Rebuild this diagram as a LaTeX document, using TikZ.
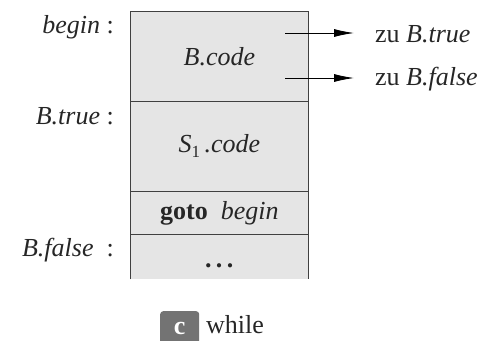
\documentclass[tikz,border=0pt]{standalone}
\usepackage{fontspec}
\setmainfont{Liberation Serif}
\usepackage{tikz}
\usetikzlibrary{arrows.meta,positioning}

\begin{document}
\begin{tikzpicture}[
    x = 1pt, y = -1pt,
    every node/.style = {font=\fontsize{26}{30}\selectfont, inner sep=0pt, text=black!85},
    codebox/.style    = {fill=black!10, draw=black!75, line width=0.9pt,
                         minimum width=178pt, anchor=north west},
    openbox/.style    = {fill=black!10, minimum width=178pt, anchor=north west},
    jump/.style       = {-{Latex[length=20pt,width=8pt]}, line width=0.9pt},
    addr/.style       = {anchor=east},
    badge/.style      = {fill=black!55, text=white, rounded corners=3pt,
                         minimum width=39pt, minimum height=34pt, anchor=north west}
  ]
\useasboundingbox (0,0) rectangle (487,340);
% the code blocks
\node[codebox, minimum height=90pt] (bcode) at (130,11)  {\textit{B.code}};
\node[codebox, minimum height=90pt] (scode) at (130,101) {\textit{S}\raisebox{-5pt}{\fontsize{17}{20}\selectfont 1}\,\textit{.code}};
\node[codebox, minimum height=43pt] (jmp)   at (130,191) {\textbf{goto}\enspace\textit{begin}};
\node[openbox, minimum height=45pt] (rest)  at (130,234) {};
\node (dots) at ([yshift=-9pt]rest.center) {\textbf{.\,.\,.}};
\draw[draw=black!75, line width=0.9pt] (rest.south west) -- (rest.north west) -- (rest.north east) -- (rest.south east);
% labels on the left
\node[addr] (lbegin) at (114,27)  {\textit{begin} :};
\node[addr] (ltrue)  at (114,116) {\textit{B.true} :};
\node[addr] (lfalse) at (114,250) {\textit{B.false}\enspace :};
% jumps out of B.code
\coordinate (t1) at (285,33);
\coordinate (t2) at (285,78);
\node[anchor=west] (ztrue)  at (375,34) {zu \textit{B.true}};
\node[anchor=west] (zfalse) at (375,79) {zu \textit{B.false}};
\coordinate (e1) at (354,33);
\coordinate (e2) at (354,78);
\draw[jump] (t1) -- (e1);
\draw[jump] (t2) -- (e2);
% caption
\node[badge] (tag) at (160,311) {\raisebox{-8pt}{\textbf{c}}};
\node[anchor=west] (cap) at (206,325) {while};
\end{tikzpicture}
\end{document}
